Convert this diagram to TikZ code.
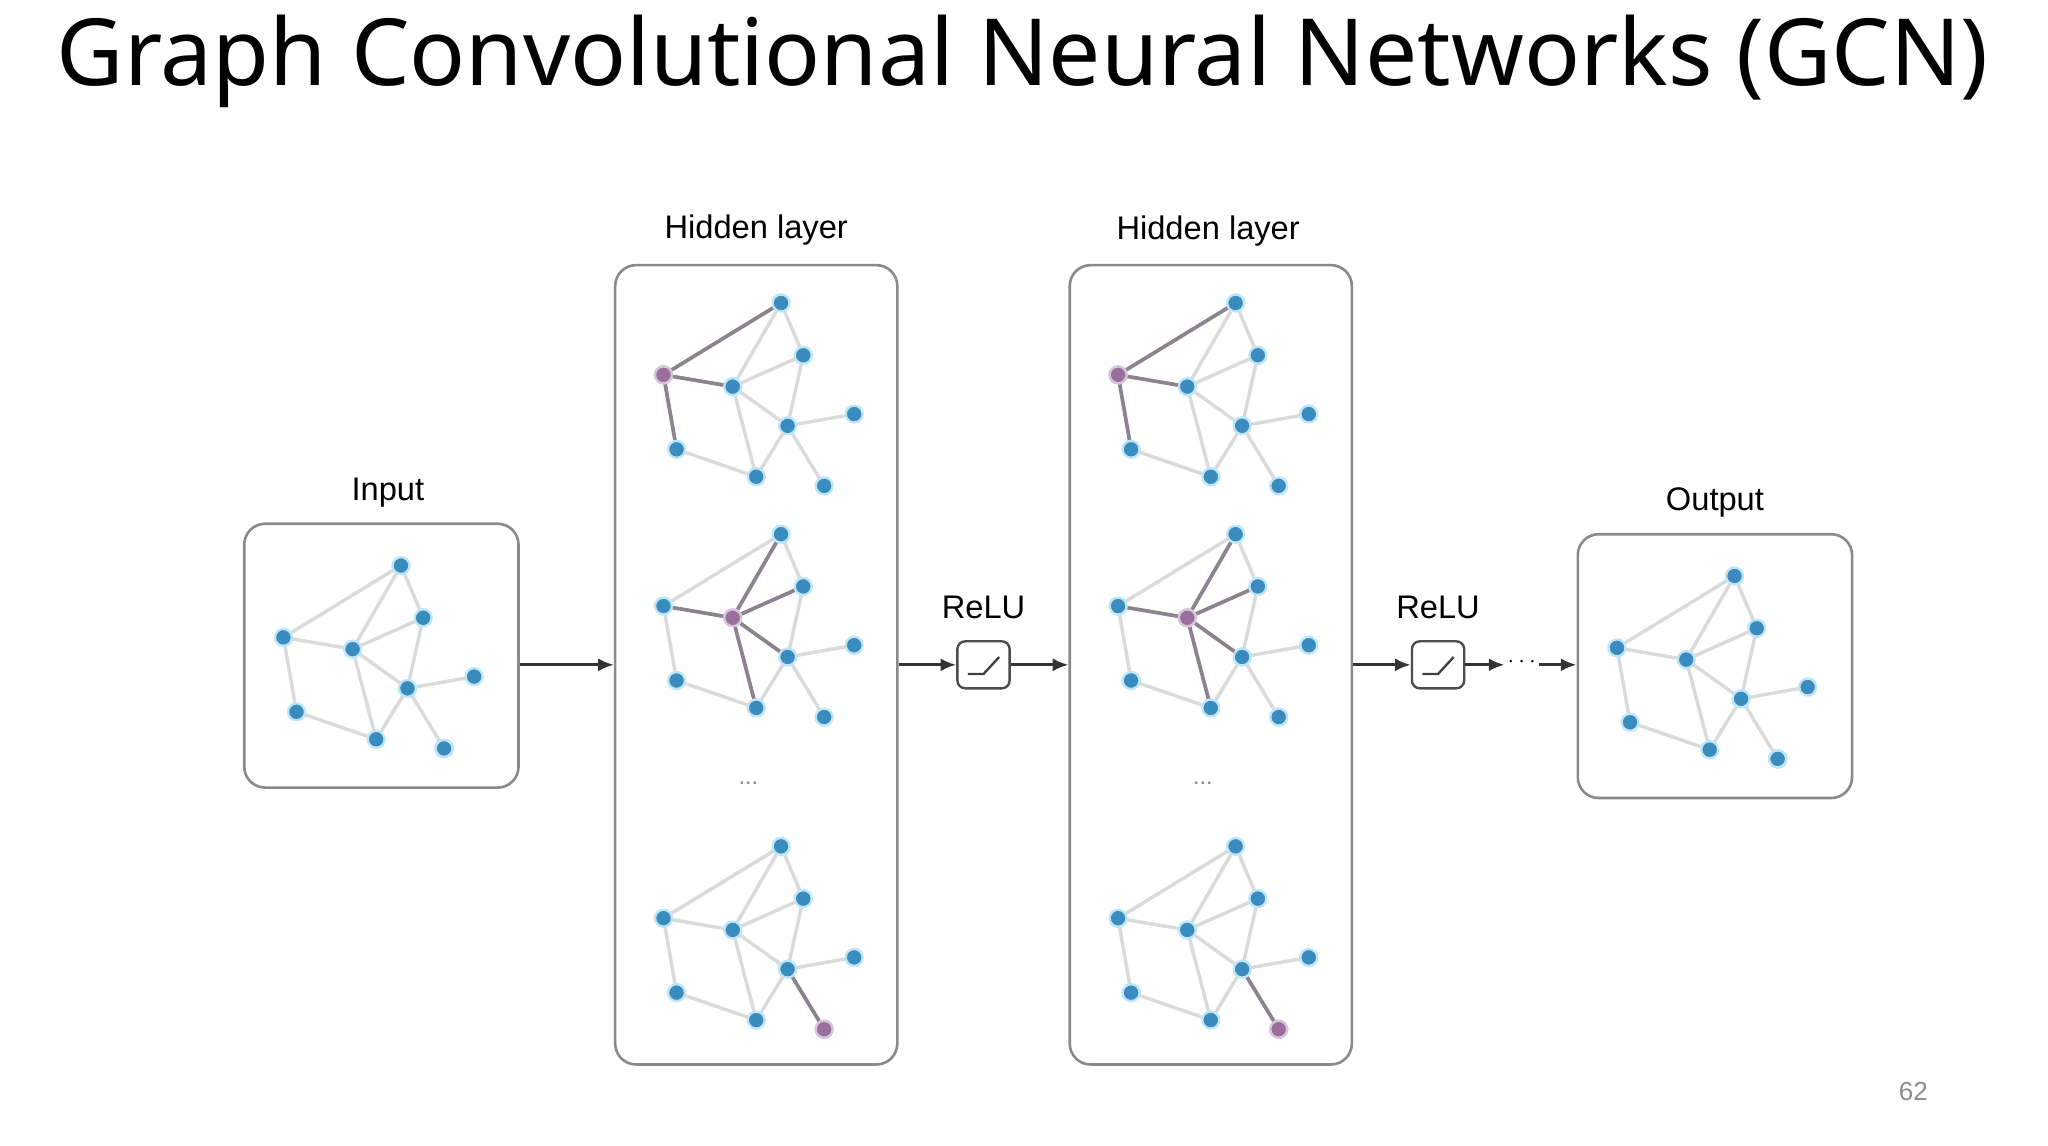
\documentclass[tikz,border=0pt]{standalone}
\usepackage{fontspec}
\setmainfont{Liberation Sans}
\newfontfamily\titlefont{Noto Sans}
\usetikzlibrary{arrows.meta}
\definecolor{nodeblue}{HTML}{3A8BBE}
\definecolor{halo}{HTML}{BFE6F7}
\definecolor{nodepurple}{HTML}{9A6F9E}
\definecolor{lightedge}{HTML}{DADADA}
\definecolor{darkedge}{HTML}{8C8290}
\definecolor{boxline}{HTML}{8A8A8A}
\tikzset{
  gn/.style={circle,fill=nodeblue,draw=halo,line width=0.9pt,inner sep=0pt,minimum size=6.5pt},
  gp/.style={gn,fill=nodepurple,draw=nodepurple!40},
  le/.style={lightedge,line width=1.3pt},
  de/.style={darkedge,line width=1.4pt},
  panel/.style={draw=boxline,line width=1pt,rounded corners=8pt},
  lab/.style={font=\fontsize{12.5}{14}\selectfont},
  arr/.style={-{Latex[length=6pt,width=5pt]},line width=1.1pt,black!80},
}
\newcommand{\gcngraph}[5]{% prefix, dx, dy, dark edges, purple node
  \begin{scope}[shift={(#2,#3)}]
  \foreach \n/\x/\y in {A/307/433,B/324/473,C/217/488,D/270/497,E/312/527,F/363/518,G/227/545,H/288/566,I/340/573}
    \coordinate (#1\n) at (\x,\y);
  \foreach \a/\b in {C/A,A/D,A/B,C/D,D/B,C/G,D/E,D/H,B/E,E/F,E/H,E/I,G/H}
    \draw[le] (#1\a) -- (#1\b);
  \foreach \a/\b in {#4}
    \draw[de] (#1\a) -- (#1\b);
  \foreach \n in {A,B,C,D,E,F,G,H,I}
    \node[gn] (#1n\n) at (#1\n) {};
  \node[gp] at (#1#5) {};
  \end{scope}}
\begin{document}
\begin{tikzpicture}[x=0.5pt,y=-0.5pt]
\useasboundingbox (0,0) rectangle (1568,877);
\node[font=\titlefont\fontsize{35.5}{40}\selectfont] (title) at (783,47) {Graph Convolutional Neural Networks (GCN)};
% panels
\node[panel,minimum width=105pt,minimum height=101pt] (inbox) at (292,502) {};
\node[panel,minimum width=108pt,minimum height=306pt] (h1box) at (579,509) {};
\node[panel,minimum width=108pt,minimum height=306pt] (h2box) at (927,509) {};
\node[panel,minimum width=105pt,minimum height=101pt] (outbox) at (1313,510) {};
\node[lab] (lin) at (297,377) {Input};
\node[lab] (lh1) at (579,176) {Hidden layer};
\node[lab] (lh2) at (925,177) {Hidden layer};
\node[lab] (lout) at (1313,385) {Output};
% graphs
\gcngraph{in}{0}{0}{}{I}
\node[gn] at (inI) {};
\gcngraph{a}{291}{-201}{C/A,C/D,C/G}{C}
\gcngraph{b}{291}{-24}{D/C,D/A,D/B,D/E,D/H}{D}
\gcngraph{c}{291}{215}{E/I}{I}
\gcngraph{d}{639}{-201}{C/A,C/D,C/G}{C}
\gcngraph{e}{639}{-24}{D/C,D/A,D/B,D/E,D/H}{D}
\gcngraph{f}{639}{215}{E/I}{I}
\gcngraph{o}{1021}{8}{}{I}
\node[gn] at (oI) {};
\node[text=black!45,font=\small] (dots1) at (573,600) {...};
\node[text=black!45,font=\small] (dots2) at (921,600) {...};
% relu
\node[lab] (r1l) at (753,465) {ReLU};
\node[lab] (r2l) at (1101,465) {ReLU};
\node[draw=black!70,line width=0.9pt,rounded corners=3pt,minimum width=20pt,minimum height=18pt] (r1) at (753,509) {};
\node[draw=black!70,line width=0.9pt,rounded corners=3pt,minimum width=20pt,minimum height=18pt] (r2) at (1101,509) {};
\draw[black!75,line width=0.9pt] (741,516) -- (753,516) -- (765,503);
\draw[black!75,line width=0.9pt] (1089,516) -- (1101,516) -- (1113,503);
\node[font=\small,inner sep=1pt] (dd) at (1165,507) {$\cdots$};
\draw[arr] (inbox.east |- r1) -- (h1box.west |- r1);
\draw[arr] (h1box.east |- r1) -- (r1.west);
\draw[arr] (r1.east) -- (h2box.west |- r1);
\draw[arr] (h2box.east |- r2) -- (r2.west);
\draw[arr] (r2.east) -- (dd.west |- r2);
\draw[arr] (dd.east |- r2) -- (outbox.west |- r2);
\node[text=black!45,font=\fontsize{10}{12}\selectfont] (pg) at (1465,836) {62};
\end{tikzpicture}
\end{document}
